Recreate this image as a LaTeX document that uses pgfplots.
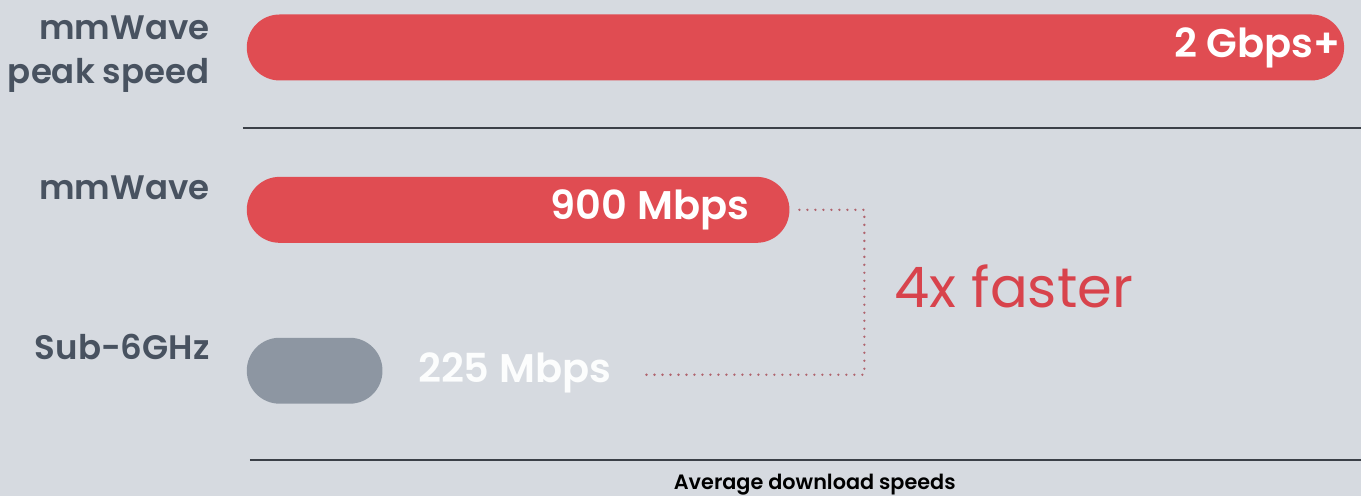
\documentclass[border=0pt]{standalone}
\usepackage{pgfplots}
\pgfplotsset{compat=1.18}
\usepackage{fontspec}
\setmainfont{Poppins}[BoldFont={Poppins SemiBold}]
\definecolor{bg}{HTML}{D6DAE0}
\definecolor{barred}{HTML}{E04C52}
\definecolor{bargray}{HTML}{8D96A2}
\definecolor{lab}{HTML}{485260}
\definecolor{dotc}{HTML}{B0646E}
\definecolor{fastred}{HTML}{D8434C}
\definecolor{rule}{HTML}{3B4048}
\begin{document}
\begin{tikzpicture}
\begin{axis}[
  scale only axis, width=681pt, height=248pt,
  xmin=-409.39, xmax=1848.07,
  ymin=0, ymax=496, y dir=reverse,
  axis lines=none, ticks=none,
  axis background/.style={fill=bg},
  clip=false,
  xbar, bar shift=0pt, bar width=66,
]
\addplot[draw=none, fill=barred, rounded corners=16.4pt] coordinates {(1820,47.5) (900,210)};
\addplot[draw=none, fill=bargray, rounded corners=16.4pt] coordinates {(225,371)};
% rules
\draw[rule, line width=1pt] (axis cs:-6.6,128) -- (axis cs:1848.07,128);
\draw[rule, line width=1pt] (axis cs:5,460) -- (axis cs:1848.07,460);
% connector
\draw[dotc, line width=1.3pt, line cap=round, dash pattern=on 0pt off 4pt]
  (axis cs:916.6,210) -- (axis cs:1024.3,210) -- (axis cs:1024.3,375) -- (axis cs:651.4,375);
% value labels
\node[text=white, font=\bfseries\fontsize{20}{24}\selectfont] at (axis cs:1675.7,47.5) {2 Gbps+};
\node[text=white, font=\bfseries\fontsize{20}{24}\selectfont, anchor=east, inner sep=0pt] at (axis cs:833.7,210) {900 Mbps};
\node[text=white!94!bg, font=\bfseries\fontsize{20}{24}\selectfont, anchor=west, inner sep=0pt] at (axis cs:283.4,373) {225 Mbps};
\node[text=fastred, font=\fontsize{28}{32}\selectfont, anchor=west, inner sep=0pt] at (axis cs:1074,287) {4x faster};
% category labels
\node[text=lab, font=\bfseries\fontsize{17}{22}\selectfont, anchor=east, align=right, inner sep=0pt] at (axis cs:-61.3,54) {mmWave\\peak speed};
\node[text=lab, font=\bfseries\fontsize{17}{22}\selectfont, anchor=east, inner sep=0pt] at (axis cs:-61.3,188) {mmWave};
\node[text=lab, font=\bfseries\fontsize{17}{22}\selectfont, anchor=east, inner sep=0pt] at (axis cs:-61.3,347) {Sub-6GHz};
\node[text=black, font=\bfseries\fontsize{10.4}{13}\selectfont, inner sep=0pt] at (axis cs:942,485) {Average download speeds};
\end{axis}
\end{tikzpicture}
\end{document}
